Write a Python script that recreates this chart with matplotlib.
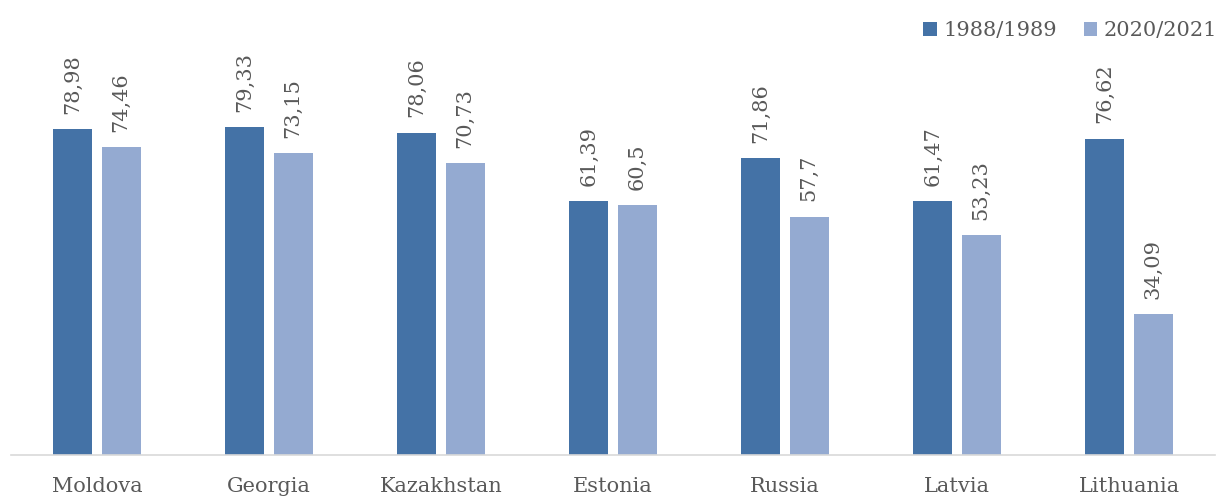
import matplotlib.pyplot as plt
import numpy as np

countries = ['Moldova', 'Georgia', 'Kazakhstan', 'Estonia', 'Russia', 'Latvia', 'Lithuania']
vals_1989 = [78.98, 79.33, 78.06, 61.39, 71.86, 61.47, 76.62]
vals_2021 = [74.46, 73.15, 70.73, 60.5, 57.7, 53.23, 34.09]
series_names = ['1988/1989', '2020/2021']

dark = '#4472A6'
light = '#94AAD1'
txt = '#595959'

plt.rcParams['font.family'] = ['DejaVu Serif']

fig = plt.figure(figsize=(12.32, 5), dpi=100)
ax = fig.add_axes([11 / 1232, 0.09, 1204 / 1232, 0.826])

x = np.arange(len(countries))
w = 0.226
b1 = ax.bar(x - 0.142, vals_1989, w, color=dark, label=series_names[0])
b2 = ax.bar(x + 0.14, vals_2021, w, color=light, label=series_names[1])

def fmt(v):
    return ('%g' % v).replace('.', ',')

for bars, vals in [(b1, vals_1989), (b2, vals_2021)]:
    for r, v in zip(bars, vals):
        ax.annotate(fmt(v), (r.get_x() + r.get_width() / 2, v), xytext=(0, 11),
                    textcoords='offset points', rotation=90, ha='center', va='bottom',
                    fontsize=15, color=txt, fontweight='light')

ax.set_xlim(-0.5, 6.5)
ax.set_ylim(0, 100)
ax.set_xticks(x)
ax.set_xticklabels(countries, fontsize=15, color=txt)
ax.tick_params(axis='x', length=0, pad=16)
ax.set_yticks([])
for s in ['top', 'right', 'left']:
    ax.spines[s].set_visible(False)
ax.spines['bottom'].set_color('#d9d9d9')
ax.spines['bottom'].set_linewidth(1.2)

leg = fig.legend(loc='upper right', bbox_to_anchor=(1.003, 0.995), ncol=2, frameon=False,
                 fontsize=15, handlelength=0.65, handleheight=0.65, handletextpad=0.3,
                 columnspacing=1.3)
for t in leg.get_texts():
    t.set_color(txt)

plt.savefig('out.png')
plt.close()
